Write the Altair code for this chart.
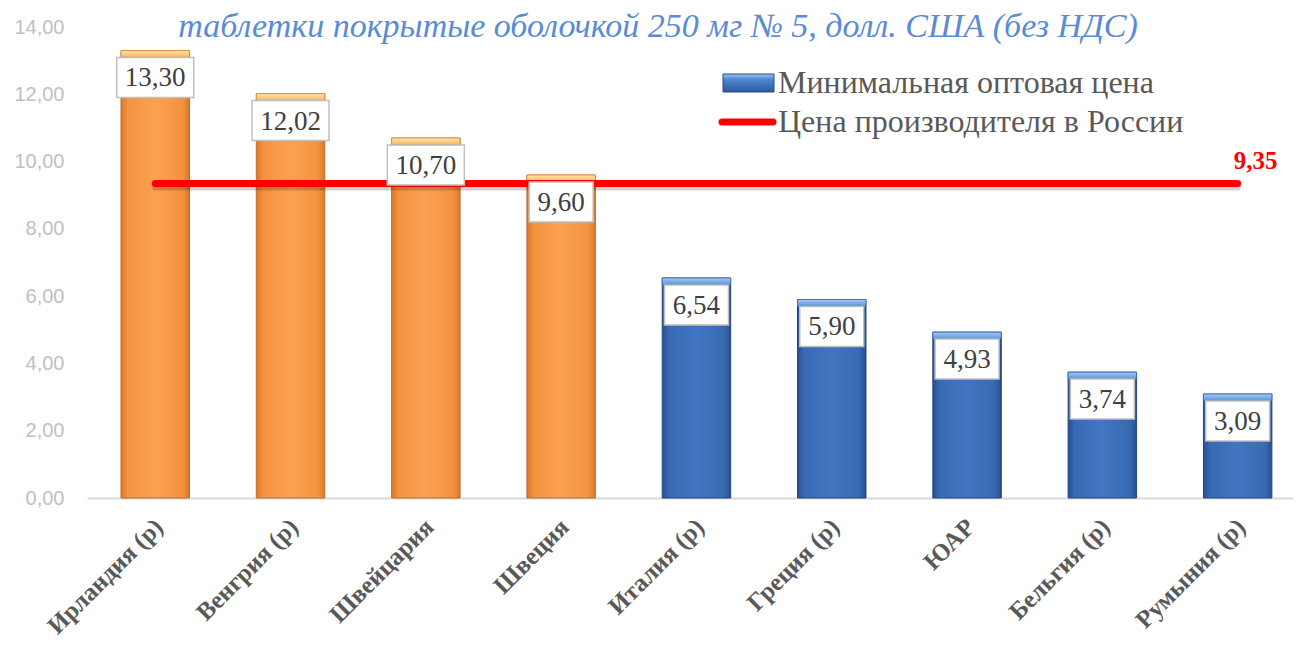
import altair as alt
import pandas as pd

# ---- data ----
countries = ["Ирландия (р)", "Венгрия (р)", "Швейцария", "Швеция", "Италия (р)",
             "Греция (р)", "ЮАР", "Бельгия (р)", "Румыния (р)"]
prices = [13.30, 12.02, 10.70, 9.60, 6.54, 5.90, 4.93, 3.74, 3.09]
russia_price = 9.35
y_ticks = [0, 2, 4, 6, 8, 10, 12, 14]
title_text = ["таблетки покрытые оболочкой 250 мг № 5, долл. США (без НДС)"]
legend_bar_label = ["Минимальная оптовая цена"]
legend_line_label = ["Цена производителя в России"]

df = pd.DataFrame({"country": countries, "price": prices,
                   "russia": [russia_price] * len(countries)})

W, H = 1206, 471
SERIF = "Liberation Serif"
fmt = "replace(format(datum.price, '.2f'), '.', ',')"


def hgrad(stops):
    return alt.Gradient(gradient="linear", x1=0, y1=0, x2=1, y2=0,
                        stops=[alt.GradientStop(offset=o, color=c) for o, c in stops])


def vgrad(stops):
    return alt.Gradient(gradient="linear", x1=0, y1=0, x2=0, y2=1,
                        stops=[alt.GradientStop(offset=o, color=c) for o, c in stops])


orange_fill = hgrad([(0, "#d9782c"), (0.1, "#f4923f"), (0.5, "#fba152"), (0.9, "#f4923f"), (1, "#d9782c")])
blue_fill = hgrad([(0, "#274f8e"), (0.1, "#386ab4"), (0.5, "#4176c2"), (0.9, "#386ab4"), (1, "#274f8e")])
orange_bevel = vgrad([(0, "#fde6a6"), (1, "#f8b562")])
blue_bevel = vgrad([(0, "#a2cbf5"), (1, "#5a92db")])
legend_fill = vgrad([(0, "#9cc6f2"), (0.3, "#4f86d2"), (1, "#2c5a9d")])

x_enc = alt.X("country:N", sort=countries,
              scale=alt.Scale(paddingInner=0.494, paddingOuter=0.2037, align=0.617),
              axis=alt.Axis(title=None, labelAngle=-45, labelFont=SERIF, labelFontWeight="bold",
                            labelFontSize=25, labelColor="#595959", ticks=False,
                            domainColor="#d9d9d9", domainWidth=2, labelPadding=16,
                            labelOffset=-5, labelOverlap=False, labelLimit=400))
y_scale = alt.Scale(domain=[0, 14])
y_enc = alt.Y("price:Q", scale=y_scale,
              axis=alt.Axis(title=None, values=y_ticks,
                            labelExpr="replace(format(datum.value, '.2f'), '.', ',')",
                            labelFont="Liberation Sans", labelFontSize=20, labelColor="#bfbfbf",
                            ticks=False, domain=False, grid=False, labelPadding=23))

base = alt.Chart(df).transform_calculate(
    label=fmt, top2="datum.price - 0.2", ly="datum.price - 0.8")

hi = f"datum.price > {russia_price}"
lo = f"datum.price <= {russia_price}"

bars_o = base.transform_filter(hi).mark_bar(color=orange_fill, stroke="#c06a26", strokeWidth=1).encode(x=x_enc, y=y_enc)
bars_b = base.transform_filter(lo).mark_bar(color=blue_fill, stroke="#24487f", strokeWidth=1).encode(x=x_enc, y=y_enc)
bev_o = base.transform_filter(hi).mark_bar(color=orange_bevel, stroke="#d98a3c", strokeWidth=0.8).encode(
    x=alt.X("country:N", sort=countries), y=alt.Y("price:Q", scale=y_scale), y2="top2:Q")
bev_b = base.transform_filter(lo).mark_bar(color=blue_bevel, stroke="#3b6db5", strokeWidth=0.8).encode(
    x=alt.X("country:N", sort=countries), y=alt.Y("price:Q", scale=y_scale), y2="top2:Q")

line_shadow = base.mark_line(color="#000000", opacity=0.18, strokeWidth=6, strokeCap="round", yOffset=4).encode(
    x=alt.X("country:N", sort=countries), y=alt.Y("russia:Q", scale=y_scale))
line = base.mark_line(color="#ff0000", strokeWidth=7, strokeCap="round").encode(
    x=alt.X("country:N", sort=countries), y=alt.Y("russia:Q", scale=y_scale))

box5 = base.transform_filter("length(datum.label) == 5").mark_point(
    shape="M-1,-0.519H1V0.519H-1Z", size=77 * 77, filled=True, fill="white",
    stroke="#bfbfbf", strokeWidth=1.5, opacity=1).encode(
    x=alt.X("country:N", sort=countries), y=alt.Y("ly:Q", scale=y_scale))
box4 = base.transform_filter("length(datum.label) == 4").mark_point(
    shape="M-1,-0.625H1V0.625H-1Z", size=64 * 64, filled=True, fill="white",
    stroke="#bfbfbf", strokeWidth=1.5, opacity=1).encode(
    x=alt.X("country:N", sort=countries), y=alt.Y("ly:Q", scale=y_scale))
labels = base.mark_text(font=SERIF, fontSize=27, color="#404040", baseline="middle", dy=1).encode(
    x=alt.X("country:N", sort=countries), y=alt.Y("ly:Q", scale=y_scale), text="label:N")

rp_label = base.transform_filter(alt.datum.country == countries[-1]).transform_calculate(
    rl="replace(format(datum.russia, '.2f'), '.', ',')").mark_text(
    font=SERIF, fontSize=25, fontWeight="bold", color="#ff0000", baseline="middle", dx=18, dy=-22).encode(
    x=alt.X("country:N", sort=countries), y=alt.Y("russia:Q", scale=y_scale), text="rl:N")

# title (top line of the original heading)
title = alt.Chart(pd.DataFrame({"t": title_text})).mark_text(
    font=SERIF, fontStyle="italic", fontSize=34, color="#5a8bd4", align="center",
    baseline="alphabetic").encode(x=alt.value(571), y=alt.value(10), text="t:N")

# legend
leg_df1 = pd.DataFrame({"t": legend_bar_label})
leg_df2 = pd.DataFrame({"t": legend_line_label})
leg_rect = alt.Chart(leg_df1).mark_rect(color=legend_fill, stroke="#24487f", strokeWidth=1).encode(
    x=alt.value(636), x2=alt.value(687), y=alt.value(47), y2=alt.value(65))
leg_t1 = alt.Chart(leg_df1).mark_text(font=SERIF, fontSize=32, color="#595959", align="left",
                                      baseline="alphabetic").encode(
    x=alt.value(691), y=alt.value(66), text="t:N")
leg_line = alt.Chart(leg_df2).mark_rule(color="#ff0000", strokeWidth=7, strokeCap="round").encode(
    x=alt.value(635), x2=alt.value(686), y=alt.value(95))
leg_t2 = alt.Chart(leg_df2).mark_text(font=SERIF, fontSize=32, color="#595959", align="left",
                                      baseline="alphabetic").encode(
    x=alt.value(691), y=alt.value(105), text="t:N")

chart = alt.layer(
    bars_o, bars_b, bev_o, bev_b, line_shadow, line, box5, box4, labels, rp_label,
    title, leg_rect, leg_t1, leg_line, leg_t2
).properties(
    width=W, height=H,
    padding={"left": 79, "top": 19, "right": 0, "bottom": 149},
    autosize=alt.AutoSizeParams(type="none"),
).configure_view(stroke=None)

chart.save("out.html", embed_options={"renderer": "svg", "actions": False})
